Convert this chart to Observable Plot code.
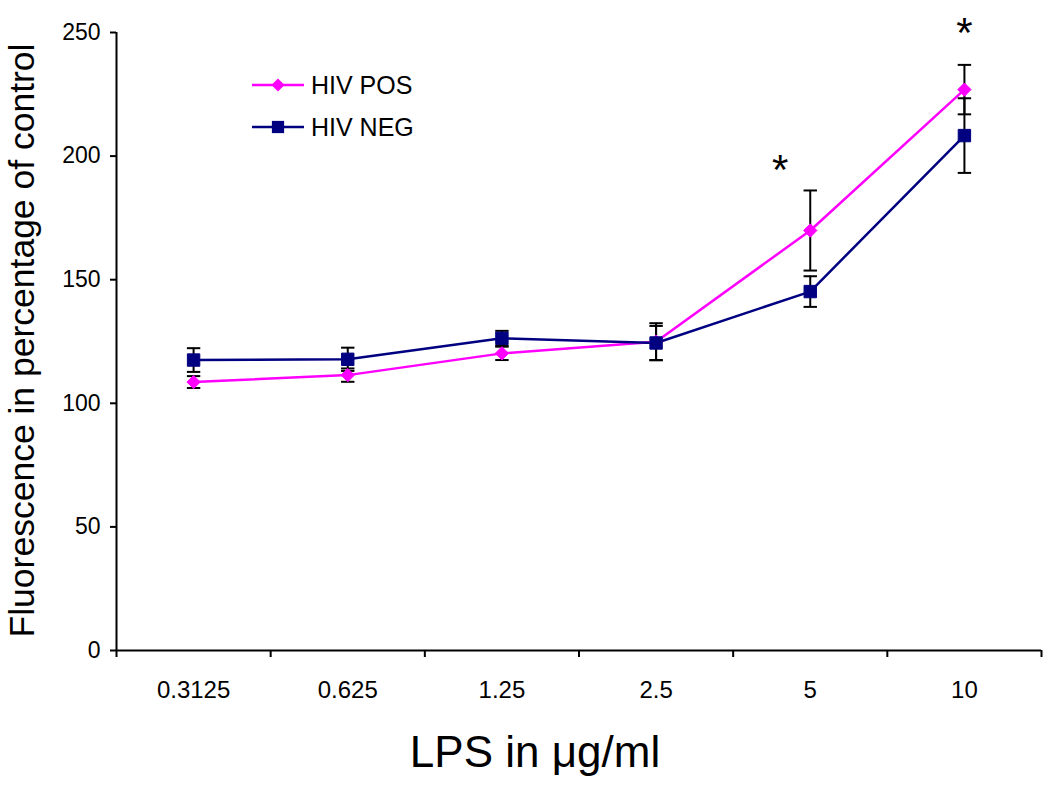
<!DOCTYPE html>
<html>
<head>
<meta charset="utf-8">
<script src="https://cdn.jsdelivr.net/npm/d3@7"></script>
<script src="https://cdn.jsdelivr.net/npm/@observablehq/plot@0.6"></script>
<style>
  html, body { margin: 0; padding: 0; background: #fff; }
  #wrap { position: relative; width: 1050px; height: 785px; font-family: "Liberation Sans", Arial, sans-serif; }
  #legend { position: absolute; left: 250px; top: 64px; font-size: 25px; color: #000; }
  .row { display: flex; align-items: center; height: 42px; }
  .row svg { margin-right: 5px; }
</style>
</head>
<body>
<div id="wrap"></div>
<script>
// ---- data ----
const doses = ["0.3125", "0.625", "1.25", "2.5", "5", "10"];
const hivPos = [108.6, 111.4, 120.2, 124.9, 169.9, 226.9];
const hivPosErr = [2.4, 2.7, 2.7, 7.5, 16.2, 10.0];
const hivNeg = [117.5, 117.8, 126.3, 124.4, 145.2, 208.3];
const hivNegErr = [4.8, 4.7, 3.0, 6.9, 6.2, 15.1];
const yTicks = [0, 50, 100, 150, 200, 250];
const starDoses = ["5", "10"];
const starY = [198.5, 254];
const seriesNames = ["HIV POS", "HIV NEG"];
const colors = ["#FF00FF", "#000080"];

const pos = doses.map((d, i) => ({i, dose: d, v: hivPos[i], e: hivPosErr[i]}));
const neg = doses.map((d, i) => ({i, dose: d, v: hivNeg[i], e: hivNegErr[i]}));
const stars = starDoses.map((d, k) => ({i: doses.indexOf(d), y: starY[k]}));
const bounds = d3.range(doses.length + 1).map(k => k - 0.5);

const cap = {draw(ctx, size) { const r = Math.sqrt(size / Math.PI); ctx.moveTo(-r, 0); ctx.lineTo(r, 0); }};

const font = "Liberation Sans, Arial, sans-serif";

const errMarks = (data) => [
  Plot.ruleX(data, {x: "i", y1: d => d.v - d.e, y2: d => d.v + d.e, stroke: "black", strokeWidth: 2}),
  Plot.dot(data, {x: "i", y: d => d.v - d.e, symbol: cap, r: 6.7, stroke: "black", strokeWidth: 2, fill: "none"}),
  Plot.dot(data, {x: "i", y: d => d.v + d.e, symbol: cap, r: 6.7, stroke: "black", strokeWidth: 2, fill: "none"})
];

const chart = Plot.plot({
  width: 1050,
  height: 785,
  marginLeft: 116,
  marginRight: 9,
  marginTop: 32,
  marginBottom: 135,
  style: {fontFamily: font, background: "white"},
  x: {type: "linear", domain: [-0.5, doses.length - 0.5]},
  y: {domain: [0, 250]},
  marks: [
    Plot.axisY({ticks: yTicks, tickSize: 6, tickPadding: 10, fontSize: 23, label: null, strokeWidth: 2}),
    Plot.axisX({ticks: d3.range(doses.length), tickFormat: i => doses[i], tickSize: 0, tickPadding: 30, fontSize: 24, label: null}),
    Plot.axisX({ticks: bounds, tickFormat: () => "", tickSize: 7, label: null, strokeWidth: 2}),
    Plot.ruleX([-0.5], {stroke: "black", strokeWidth: 2}),
    Plot.ruleY([0], {stroke: "black", strokeWidth: 2}),
    Plot.line(pos, {x: "i", y: "v", stroke: colors[0], strokeWidth: 2.5}),
    Plot.line(neg, {x: "i", y: "v", stroke: colors[1], strokeWidth: 2.5}),
    ...errMarks(pos),
    ...errMarks(neg),
    Plot.dot(pos, {x: "i", y: "v", symbol: "diamond2", r: 6, fill: colors[0], stroke: colors[0], strokeWidth: 1}),
    Plot.dot(neg, {x: "i", y: "v", symbol: "square", r: 7, fill: colors[1], stroke: colors[1], strokeWidth: 1}),
    Plot.text(stars.filter(d => d.i === doses.indexOf("5")), {x: "i", y: "y", text: () => "*", fontSize: 42, fill: "black", lineAnchor: "middle", dx: -30, dy: 11}),
    Plot.text(stars.filter(d => d.i === doses.indexOf("10")), {x: "i", y: "y", text: () => "*", fontSize: 42, fill: "black", lineAnchor: "middle", dy: 11}),
    Plot.text(["Fluorescence in percentage of control"], {frameAnchor: "left", textAnchor: "middle", rotate: -90, dx: -94, dy: -1, fontSize: 35.5, fill: "black", lineAnchor: "middle"}),
    Plot.text(["LPS in μg/ml"], {frameAnchor: "bottom", dx: -44, dy: 102, fontSize: 44, fill: "black", lineAnchor: "middle"})
  ]
});

document.getElementById("wrap").appendChild(chart);

// legend
const legend = document.createElement("div");
legend.id = "legend";
const symbols = [d3.symbol(d3.symbolDiamond2, 110)(), d3.symbol(d3.symbolSquare, 150)()];
seriesNames.forEach((name, k) => {
  const row = document.createElement("div");
  row.className = "row";
  row.innerHTML = `<svg width="56" height="20" viewBox="-28 -10 56 20"><line x1="-26" x2="26" y1="0" y2="0" stroke="${colors[k]}" stroke-width="2.5"/><path d="${symbols[k]}" fill="${colors[k]}"/></svg><span>${name}</span>`;
  legend.appendChild(row);
});
document.getElementById("wrap").appendChild(legend);
</script>
</body>
</html>
